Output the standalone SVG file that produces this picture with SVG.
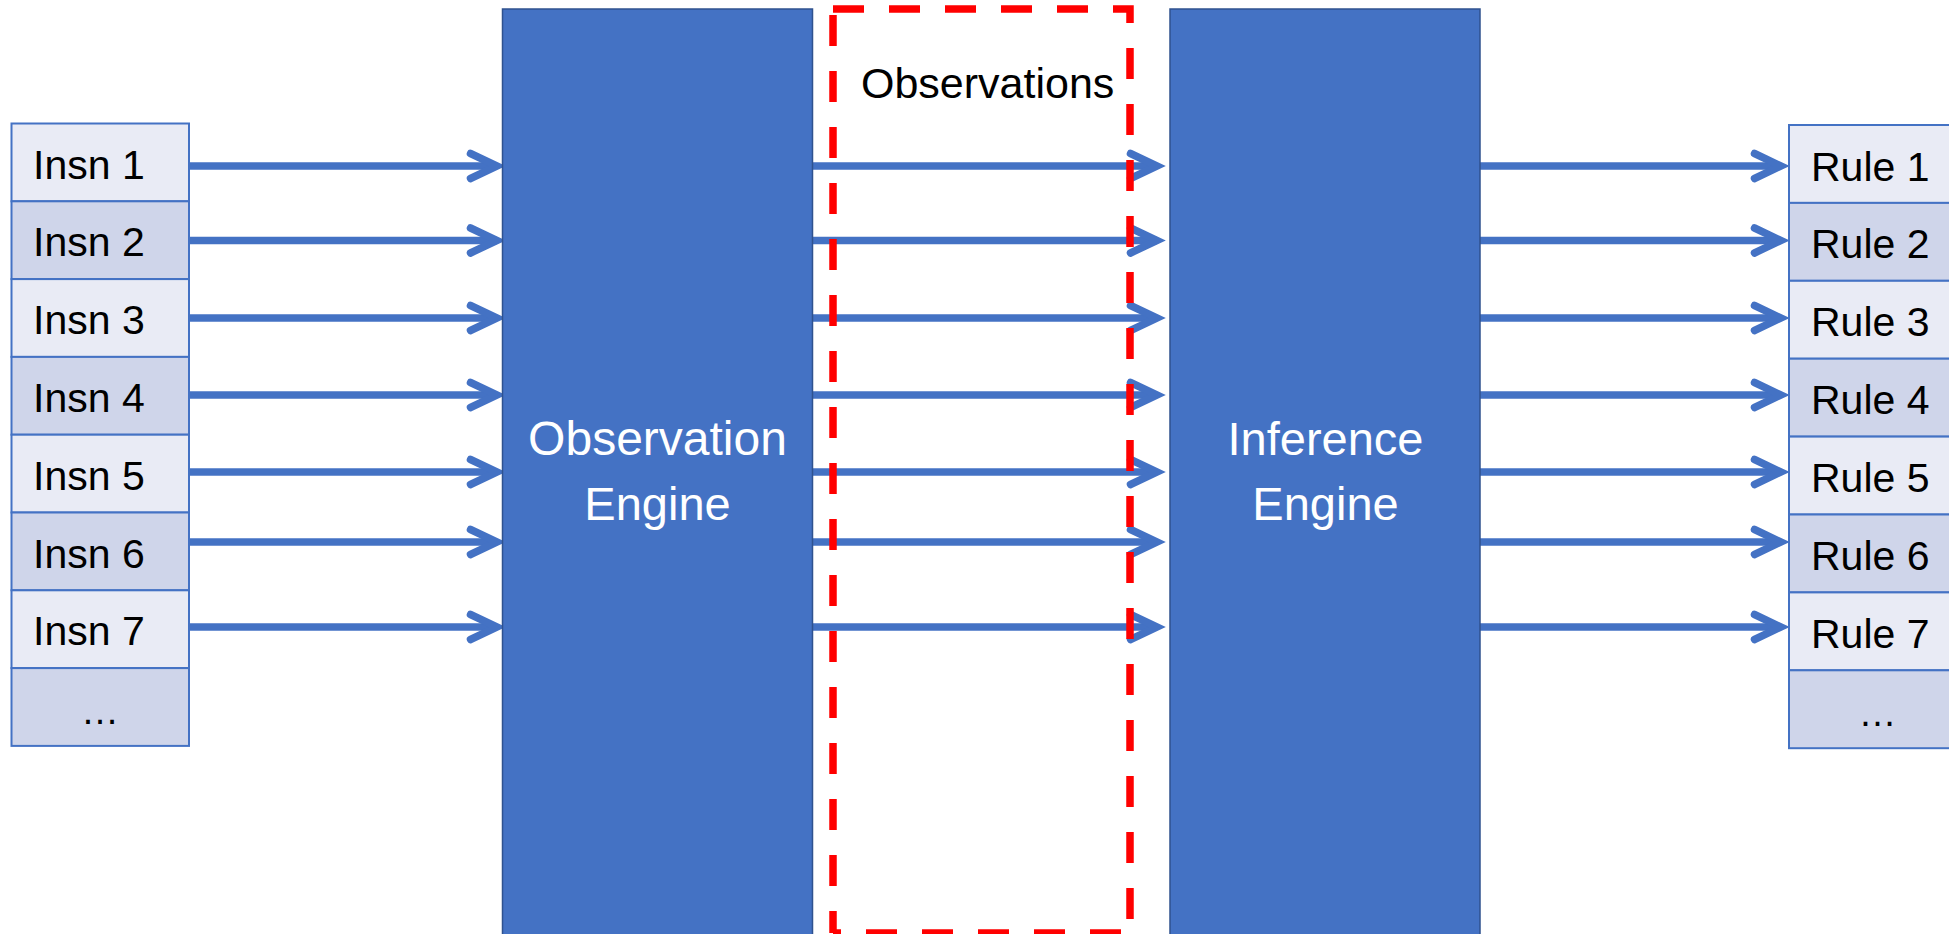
<svg xmlns="http://www.w3.org/2000/svg" width="1949" height="934" viewBox="0 0 1949 934">
<style>
.bg{fill:#FFFFFF}
.cl{fill:#E9EBF5;stroke:#4472C4;stroke-width:2}
.cd{fill:#CFD5EA;stroke:#4472C4;stroke-width:2}
.t{font-family:"Liberation Sans",Arial,sans-serif;font-size:41px;fill:#000000}
.eng{fill:#4472C4;stroke:#2F528F;stroke-width:1.5}
.et{font-family:"Liberation Sans",Arial,sans-serif;font-size:47px;fill:#FFFFFF;text-anchor:middle}
.ln{stroke:#4472C4;stroke-width:7.5;fill:none;marker-end:url(#chev)}
.red{fill:none;stroke:#FF0000;stroke-width:7.5;stroke-dasharray:31 25}
</style>
<defs>
<marker id="chev" markerUnits="userSpaceOnUse" viewBox="-40 -25 50 50" markerWidth="50" markerHeight="50" refX="0" refY="0" orient="auto" overflow="visible">
<path d="M-26.5,-12.5 L0,0 L-26.5,12.5" fill="none" stroke="#4472C4" stroke-width="7.5" stroke-linecap="round" stroke-linejoin="miter"/>
</marker>
</defs>
<rect class="bg" x="0" y="0" width="1949" height="934"/>

<g id="connectors">
<line class="ln" x1="189" y1="166" x2="497" y2="166"/>
<line class="ln" x1="189" y1="240.5" x2="497" y2="240.5"/>
<line class="ln" x1="189" y1="318" x2="497" y2="318"/>
<line class="ln" x1="189" y1="395" x2="497" y2="395"/>
<line class="ln" x1="189" y1="472" x2="497" y2="472"/>
<line class="ln" x1="189" y1="542" x2="497" y2="542"/>
<line class="ln" x1="189" y1="627" x2="497" y2="627"/>

<line class="ln" x1="813" y1="166" x2="1157" y2="166"/>
<line class="ln" x1="813" y1="240.5" x2="1157" y2="240.5"/>
<line class="ln" x1="813" y1="318" x2="1157" y2="318"/>
<line class="ln" x1="813" y1="395" x2="1157" y2="395"/>
<line class="ln" x1="813" y1="472" x2="1157" y2="472"/>
<line class="ln" x1="813" y1="542" x2="1157" y2="542"/>
<line class="ln" x1="813" y1="627" x2="1157" y2="627"/>

<line class="ln" x1="1480" y1="166" x2="1781" y2="166"/>
<line class="ln" x1="1480" y1="240.5" x2="1781" y2="240.5"/>
<line class="ln" x1="1480" y1="318" x2="1781" y2="318"/>
<line class="ln" x1="1480" y1="395" x2="1781" y2="395"/>
<line class="ln" x1="1480" y1="472" x2="1781" y2="472"/>
<line class="ln" x1="1480" y1="542" x2="1781" y2="542"/>
<line class="ln" x1="1480" y1="627" x2="1781" y2="627"/>
</g>

<g id="observations">
<path class="red" d="M833,9 H1130 V933"/>
<path class="red" d="M1130,933 H833" stroke-dashoffset="47"/>
<path class="red" d="M833,9 V933" stroke-dashoffset="50"/>
<text class="t" x="861" y="97.5" font-size="43" style="font-size:43px">Observations</text>
</g>

<g id="observation-engine">
<rect class="eng" x="502.5" y="9" width="310" height="935"/>
<text class="et" x="657.5" y="455" style="font-size:48px">Observation</text>
<text class="et" x="657.5" y="520">Engine</text>
</g>

<g id="inference-engine">
<rect class="eng" x="1170" y="9" width="310" height="935"/>
<text class="et" x="1325.5" y="455">Inference</text>
<text class="et" x="1325.5" y="520">Engine</text>
</g>

<g id="insns">
<rect class="cl" x="11.5" y="123.5" width="177.5" height="77.8"/>
<rect class="cd" x="11.5" y="201.3" width="177.5" height="77.8"/>
<rect class="cl" x="11.5" y="279.1" width="177.5" height="77.8"/>
<rect class="cd" x="11.5" y="356.9" width="177.5" height="77.8"/>
<rect class="cl" x="11.5" y="434.7" width="177.5" height="77.8"/>
<rect class="cd" x="11.5" y="512.5" width="177.5" height="77.8"/>
<rect class="cl" x="11.5" y="590.3" width="177.5" height="77.8"/>
<rect class="cd" x="11.5" y="668.1" width="177.5" height="77.8"/>
<text class="t" x="33" y="178.5">Insn 1</text>
<text class="t" x="33" y="256.3">Insn 2</text>
<text class="t" x="33" y="334.1">Insn 3</text>
<text class="t" x="33" y="411.9">Insn 4</text>
<text class="t" x="33" y="489.7">Insn 5</text>
<text class="t" x="33" y="567.5">Insn 6</text>
<text class="t" x="33" y="645.3">Insn 7</text>
<text class="t" x="100" y="723.5" text-anchor="middle" style="font-size:38px">…</text>
</g>

<g id="rules">
<rect class="cl" x="1789" y="125" width="200" height="77.9"/>
<rect class="cd" x="1789" y="202.9" width="200" height="77.9"/>
<rect class="cl" x="1789" y="280.8" width="200" height="77.9"/>
<rect class="cd" x="1789" y="358.7" width="200" height="77.9"/>
<rect class="cl" x="1789" y="436.6" width="200" height="77.9"/>
<rect class="cd" x="1789" y="514.5" width="200" height="77.9"/>
<rect class="cl" x="1789" y="592.4" width="200" height="77.9"/>
<rect class="cd" x="1789" y="670.3" width="200" height="77.9"/>
<text class="t" x="1811" y="180.5">Rule 1</text>
<text class="t" x="1811" y="258.4">Rule 2</text>
<text class="t" x="1811" y="336.3">Rule 3</text>
<text class="t" x="1811" y="414.2">Rule 4</text>
<text class="t" x="1811" y="492.1">Rule 5</text>
<text class="t" x="1811" y="570">Rule 6</text>
<text class="t" x="1811" y="647.9">Rule 7</text>
<text class="t" x="1877.5" y="725.7" text-anchor="middle" style="font-size:38px">…</text>
</g>
</svg>
